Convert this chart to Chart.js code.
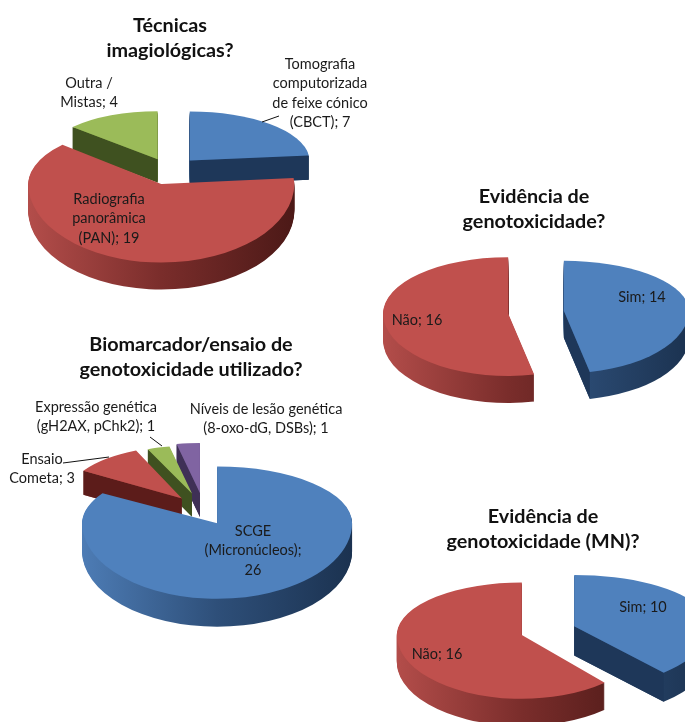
<!DOCTYPE html>
<html>
<head>
<meta charset="utf-8">
<title>Genotoxicidade</title>
<style>
  html, body { margin: 0; padding: 0; background: #fff; overflow: hidden; width: 685px; height: 722px; }
  canvas { position: absolute; }
</style>
<script src="https://cdn.jsdelivr.net/npm/chart.js@4"></script>
</head>
<body>
<canvas id="chart1"></canvas>
<canvas id="chart2"></canvas>
<canvas id="chart3"></canvas>
<canvas id="chart4"></canvas>
<script>
// data
const tecnicasCats = ['Tomografia computorizada de feixe cónico (CBCT)', 'Radiografia panorâmica (PAN)', 'Outra / Mistas'];
const tecnicasVals = [7, 19, 4];
const evidenciaCats = ['Sim', 'Não'];
const evidenciaVals = [14, 16];
const biomarcadorCats = ['SCGE (Micronúcleos)', 'Ensaio Cometa', 'Expressão genética (gH2AX, pChk2)', 'Níveis de lesão genética (8-oxo-dG, DSBs)'];
const biomarcadorVals = [26, 3, 1, 1];
const evidenciaMnCats = ['Sim', 'Não'];
const evidenciaMnVals = [10, 16];

const tecnicasLines = [['Tomografia', 'computorizada', 'de feixe cónico', '(CBCT); 7'], ['Radiografia', 'panorâmica', '(PAN); 19'], ['Outra /', 'Mistas; 4']];
const evidenciaLines = [['Sim; 14'], ['Não; 16']];
const biomarcadorLines = [['SCGE', '(Micronúcleos);', '26'], ['Ensaio', 'Cometa; 3'], ['Expressão genética', '(gH2AX, pChk2); 1'], ['Níveis de lesão genética', '(8-oxo-dG, DSBs); 1']];
const evidenciaMnLines = [['Sim; 10'], ['Não; 16']];

const sliceColors = ['#4f81bd', '#c0504d', '#9bbb59', '#8064a2'];
const sideColors = ['#1e3759', '#5c1c1a', '#3f5120', '#3f3056'];
const wallGradients = [['#4d7cb5', '#2e4f79', '#1b3250'], ['#b34d4a', '#7a2d2b', '#4c1917'], ['#7d9a45', '#5a7030', '#3f5120'], ['#6a5288', '#4f3d68', '#3f3056']];

const FONT = 'Lato';
const LINE = 19.6;

// draws the arcs squashed, exploded and with a wall below them
const pie3d = {
  id: 'pie3d',
  beforeDatasetDraw(chart, args, opts) {
    const ctx = chart.ctx;
    const box = opts.box;
    const arcs = chart.getDatasetMeta(0).data.map((arc, i) => {
      const mid = (arc.startAngle + arc.endAngle) / 2;
      const dy = Math.sin(mid) * opts.explode[i];
      return {
        arc, i,
        s: opts.scale[i],
        kb: opts.kBack[i],
        kf: opts.kFront[i],
        ax: opts.cx + Math.cos(mid) * opts.explode[i],
        ay: opts.cy + dy * (dy < 0 ? opts.kBack[i] : opts.kFront[i]),
      };
    }).sort((a, b) => a.ay - b.ay);

    ctx.save();
    ctx.translate(-box.left, -box.top);
    arcs.forEach(({ arc, i, s, kb, kf, ax, ay }) => {
      const R = arc.outerRadius;
      const depth = opts.depth * s;

      const halves = (shift, fn) => {
        const split = Math.round(ay + shift);
        [[split - 2000, 2000, kb], [split, 2000, kf]].forEach(([top, h, k]) => {
          ctx.save();
          ctx.beginPath();
          ctx.rect(-100, top, 1000, h);
          ctx.clip();
          ctx.translate(ax, ay + shift);
          ctx.scale(s, s * k);
          ctx.translate(-arc.x, -arc.y);
          fn();
          ctx.restore();
        });
      };

      // wall: the sector stacked downwards
      const grad = ctx.createLinearGradient(arc.x - R, 0, arc.x + R, 0);
      wallGradients[i].forEach((c, n) => grad.addColorStop(n / 2, c));
      for (let d = depth; d >= 1; d -= 1) {
        halves(d, () => {
          ctx.beginPath();
          ctx.moveTo(arc.x, arc.y);
          ctx.arc(arc.x, arc.y, R, arc.startAngle, arc.endAngle);
          ctx.closePath();
          ctx.fillStyle = grad;
          ctx.fill();
        });
      }

      // cut faces that look at the viewer
      [[arc.startAngle, arc.startAngle - Math.PI / 2], [arc.endAngle, arc.endAngle + Math.PI / 2]].forEach(([ang, normal]) => {
        if (Math.sin(normal) <= 0.02) return;
        const sin = Math.sin(ang);
        const px = ax + Math.cos(ang) * R * s;
        const py = ay + sin * R * s * (sin < 0 ? kb : kf);
        ctx.beginPath();
        ctx.moveTo(ax, ay);
        ctx.lineTo(px, py);
        ctx.lineTo(px, py + depth);
        ctx.lineTo(ax, ay + depth);
        ctx.closePath();
        ctx.fillStyle = sideColors[i];
        ctx.fill();
      });

      // top face, the library's own arc
      halves(0, () => arc.draw(ctx));
    });
    ctx.restore();
    return false;
  },
  afterDatasetsDraw(chart, args, opts) {
    const ctx = chart.ctx;
    ctx.save();
    ctx.translate(-opts.box.left, -opts.box.top);
    ctx.strokeStyle = '#111';
    ctx.lineWidth = 1;
    (opts.leaders || []).forEach((l) => {
      ctx.beginPath();
      ctx.moveTo(l[0], l[1]);
      ctx.lineTo(l[2], l[3]);
      ctx.stroke();
    });
    ctx.font = `14.5px ${FONT}`;
    ctx.fillStyle = '#1a1a1a';
    ctx.textAlign = 'center';
    ctx.textBaseline = 'middle';
    opts.lines.forEach((lines, i) => {
      lines.forEach((t, n) => ctx.fillText(t, opts.labelPos[i][0], opts.labelPos[i][1] + n * LINE));
    });
    ctx.restore();
  },
};

function makePie(id, cats, vals, title, box, geo) {
  const canvas = document.getElementById(id);
  canvas.width = box.width;
  canvas.height = box.height;
  canvas.style.left = box.left + 'px';
  canvas.style.top = box.top + 'px';
  return new Chart(canvas, {
    type: 'pie',
    data: {
      labels: cats,
      datasets: [{ data: vals, backgroundColor: sliceColors.slice(0, vals.length), borderWidth: 0 }],
    },
    options: {
      responsive: false,
      animation: false,
      radius: geo.radius,
      plugins: {
        legend: { display: false },
        tooltip: { enabled: false },
        title: {
          display: true,
          text: title,
          color: '#111',
          font: { family: FONT, size: 19.8, weight: 'bold', lineHeight: 1.27 },
          padding: { top: geo.titleTop, bottom: 0 },
        },
        pie3d: Object.assign({ box }, geo),
      },
    },
    plugins: [pie3d],
  });
}

makePie('chart1', tecnicasCats, tecnicasVals, ['Técnicas', 'imagiológicas?'],
  { left: -40, top: 0, width: 420, height: 300 },
  {
    radius: 133, cx: 169, cy: 170, depth: 27, titleTop: 13,
    kBack: [0.41, 0.44, 0.42], kFront: [0.59, 0.59, 0.59],
    explode: [31, 25, 28], scale: [0.9, 1, 0.86],
    lines: tecnicasLines, labelPos: [[320, 64], [109, 199], [89, 83]],
    leaders: [[262, 122, 279, 116]],
  });

makePie('chart2', evidenciaCats, evidenciaVals, ['Evidência de', 'genotoxicidade?'],
  { left: 375, top: 170, width: 318, height: 240 },
  {
    radius: 125, cx: 536, cy: 312, depth: 27, titleTop: 14,
    kBack: [0.4, 0.45], kFront: [0.5, 0.5],
    explode: [28, 28], scale: [1, 1],
    lines: evidenciaLines, labelPos: [[642, 297], [417, 320]],
  });

makePie('chart3', biomarcadorCats, biomarcadorVals, ['Biomarcador/ensaio de', 'genotoxicidade utilizado?'],
  { left: 0, top: 320, width: 382, height: 320 },
  {
    radius: 135, cx: 204, cy: 510, depth: 28, titleTop: 12,
    kBack: [0.42, 0.45, 0.43, 0.43], kFront: [0.56, 0.56, 0.56, 0.56],
    explode: [27, 34, 40, 40], scale: [1, 0.86, 0.83, 0.86],
    lines: biomarcadorLines, labelPos: [[253, 531], [42, 459], [96, 407], [266, 409]],
    leaders: [[63, 463, 109, 457], [150, 437, 162, 446]],
  });

makePie('chart4', evidenciaMnCats, evidenciaMnVals, ['Evidência de', 'genotoxicidade (MN)?'],
  { left: 385, top: 490, width: 316, height: 232 },
  {
    radius: 125, cx: 548, cy: 630, depth: 27, titleTop: 14,
    kBack: [0.38, 0.42], kFront: [0.46, 0.51],
    explode: [28, 28], scale: [1.08, 1],
    lines: evidenciaMnLines, labelPos: [[643, 607], [437, 654]],
  });
</script>
</body>
</html>
